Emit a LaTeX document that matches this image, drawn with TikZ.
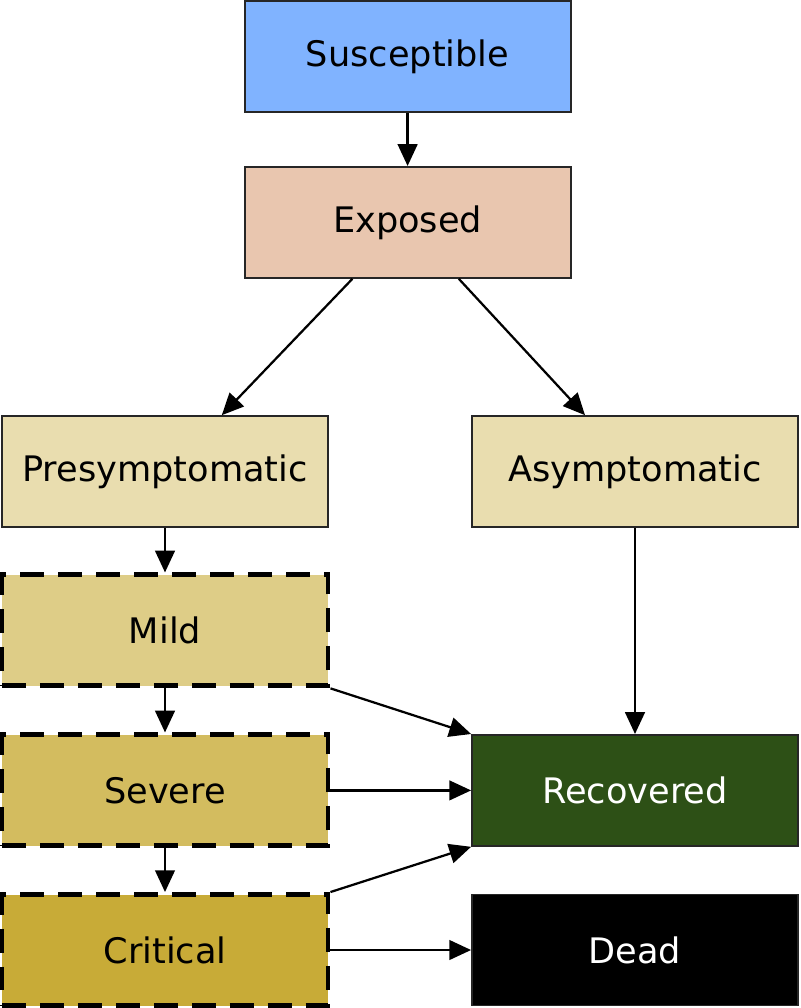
\documentclass[tikz,border=0pt]{standalone}
\usepackage{fontspec}
\setmainfont{DejaVu Sans}
\usetikzlibrary{arrows.meta,calc}

\definecolor{suscol}{HTML}{80B3FF}
\definecolor{expcol}{HTML}{E9C6AF}
\definecolor{infcol}{HTML}{E9DDAF}
\definecolor{mildcol}{HTML}{DECD87}
\definecolor{sevcol}{HTML}{D3BC5F}
\definecolor{critcol}{HTML}{C8AB37}
\definecolor{reccol}{HTML}{2D5016}

\begin{document}
\begin{tikzpicture}[
    state/.style={draw=black!85, line width=1.3pt, minimum width=8.15cm, minimum height=2.775cm,
                  inner sep=0pt, font=\fontsize{25}{30}\selectfont},
    hospital/.style={state, draw=black, line width=3.5pt, dash pattern=on 17pt off 10pt},
    flow/.style={line width=1.6pt, -{Triangle[length=15.5pt,width=14pt]}}
  ]
  \useasboundingbox (0,0) rectangle (20,-25.2);
  % top of the chain
  \node[state, fill=suscol] (sus) at (10.19,-1.41) {Susceptible};
  \node[state, fill=expcol] (expo) at (10.19,-5.56) {Exposed};
  % the two infected branches
  \node[state, fill=infcol] (presym) at (4.125,-11.79) {Presymptomatic};
  \node[state, fill=infcol] (asym) at (15.875,-11.79) {Asymptomatic};
  % symptomatic stages
  \node[hospital, fill=mildcol] (mild) at (4.125,-15.76) {Mild};
  \node[hospital, fill=sevcol] (severe) at (4.125,-19.76) {Severe};
  \node[hospital, fill=critcol] (crit) at (4.125,-23.75) {Critical};
  % outcomes
  \node[state, fill=reccol, text=white] (recov) at (15.875,-19.76) {Recovered};
  \node[state, fill=black, text=white] (dead) at (15.875,-23.75) {Dead};

  % arrows
  \draw[flow] (sus) -- (expo);
  \draw[flow] ($(expo.south)+(-1.38,0)$) -- ($(presym.north)+(1.42,0)$);
  \draw[flow] ($(expo.south)+(1.28,0)$) -- ($(asym.north)+(-1.25,0)$);
  \draw[flow] (presym) -- (mild);
  \draw[flow] (mild) -- (severe);
  \draw[flow] (severe) -- (crit);
  \draw[flow] (asym) -- (recov);
  \draw[flow] (mild.south east) -- (recov.north west);
  \draw[flow] (severe) -- (recov);
  \draw[flow] (crit.north east) -- (recov.south west);
  \draw[flow] (crit) -- (dead);
\end{tikzpicture}
\end{document}
